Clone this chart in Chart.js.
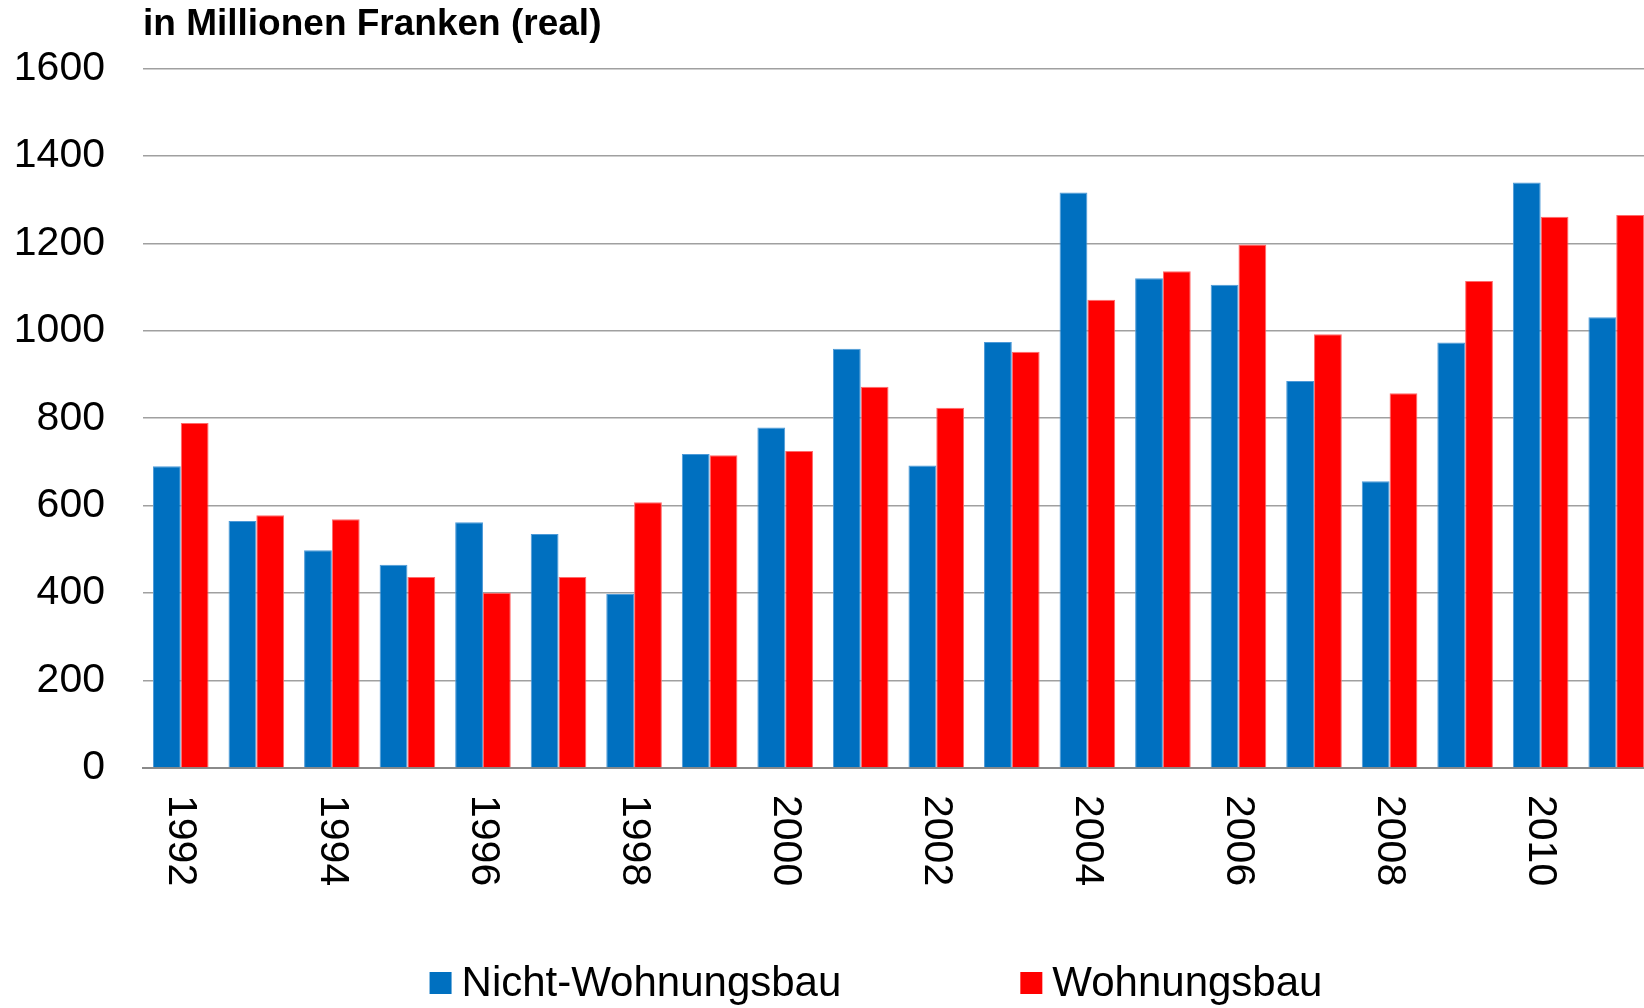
<!DOCTYPE html>
<html>
<head>
<meta charset="utf-8">
<script src="https://cdn.jsdelivr.net/npm/chart.js@4/dist/chart.umd.min.js"></script>
<style>
  html, body { margin: 0; padding: 0; background: #fff; overflow: hidden; }
  #clip { width: 1644px; height: 1008px; overflow: hidden; position: relative; }
  #wrap { width: 1660px; height: 1008px; position: relative; }
</style>
</head>
<body>
<div id="clip"><div id="wrap"><canvas id="c"></canvas></div></div>
<script>
const categories = ['1992','1993','1994','1995','1996','1997','1998','1999','2000','2001',
                    '2002','2003','2004','2005','2006','2007','2008','2009','2010','2011'];
const nichtWohnungsbau = [690, 565, 498, 465, 562, 535, 398, 718, 779, 959,
                          692, 974, 1316, 1120, 1105, 885, 656, 973, 1339, 1031];
const wohnungsbau = [789, 578, 569, 437, 401, 437, 608, 715, 725, 872,
                     824, 952, 1071, 1136, 1197, 992, 857, 1114, 1261, 1265];
const xTickLabels = ['1992','1994','1996','1998','2000','2002','2004','2006','2008','2010'];
const yTicks = [0, 200, 400, 600, 800, 1000, 1200, 1400, 1600];
const seriesNames = ['Nicht-Wohnungsbau', 'Wohnungsbau'];
const titleText = 'in Millionen Franken (real)';

const FONT = '"Liberation Sans", Arial, Helvetica, sans-serif';
const BLUE = '#0070C0';
const RED = '#FF0000';

const xLabelPlugin = {
  id: 'rotatedXLabels',
  afterDraw(chart) {
    const xs = chart.scales.x;
    const ctx = chart.ctx;
    ctx.save();
    ctx.font = '41px ' + FONT;
    ctx.fillStyle = '#000';
    ctx.textAlign = 'left';
    ctx.textBaseline = 'middle';
    xTickLabels.forEach(lbl => {
      const i = categories.indexOf(lbl);
      const x = xs.getPixelForValue(i);
      ctx.save();
      ctx.translate(x, chart.chartArea.bottom + 27);
      ctx.rotate(Math.PI / 2);
      ctx.fillText(lbl, 0, 0);
      ctx.restore();
    });
    ctx.restore();
  }
};

const legendPlugin = {
  id: 'spreadLegend',
  afterDraw(chart) {
    const ctx = chart.ctx;
    const colors = chart.data.datasets.map(d => d.backgroundColor);
    const names = chart.data.datasets.map(d => d.label);
    ctx.save();
    ctx.font = '42px ' + FONT;
    const box = 22, gapText = 10, gapItems = 179;
    const widths = names.map(n => ctx.measureText(n).width);
    let total = 0;
    widths.forEach((w, i) => { total += box + gapText + w + (i < widths.length - 1 ? gapItems : 0); });
    let x = 876 - total / 2;
    const cy = 983;
    ctx.textAlign = 'left';
    ctx.textBaseline = 'middle';
    names.forEach((n, i) => {
      ctx.fillStyle = colors[i];
      ctx.fillRect(x, cy - box / 2, box, box);
      ctx.fillStyle = '#000';
      ctx.fillText(n, x + box + gapText, cy + 1);
      x += box + gapText + widths[i] + gapItems;
    });
    ctx.restore();
  }
};

new Chart(document.getElementById('c'), {
  type: 'bar',
  data: {
    labels: categories,
    datasets: [
      { label: seriesNames[0], data: nichtWohnungsbau, backgroundColor: BLUE,
        borderColor: '#4d9ad8', borderWidth: 1 },
      { label: seriesNames[1], data: wohnungsbau, backgroundColor: RED,
        borderColor: '#ff6b6b', borderWidth: 1 }
    ]
  },
  options: {
    responsive: true,
    maintainAspectRatio: false,
    animation: false,
    devicePixelRatio: 1,
    layout: { padding: { left: 14, right: 6, top: 0, bottom: 240 } },
    datasets: { bar: { categoryPercentage: 0.736, barPercentage: 1.0 } },
    plugins: {
      legend: { display: false },
      tooltip: { enabled: false },
      title: {
        display: true,
        text: titleText,
        align: 'start',
        fullSize: false,
        color: '#000',
        font: { family: FONT, size: 37, weight: 'bold', lineHeight: 1.2 },
        padding: { top: 3, bottom: 21 }
      }
    },
    scales: {
      x: {
        grid: { display: false, drawTicks: false },
        border: { display: true, color: '#8a8a8a', width: 2 },
        ticks: { display: false }
      },
      y: {
        min: 0,
        max: 1600,
        afterBuildTicks(scale) { scale.ticks = yTicks.map(v => ({ value: v })); },
        afterFit(scale) { scale.width = 129; },
        grid: { color: '#a0a0a0', lineWidth: 1.5, drawTicks: false },
        border: { display: false },
        ticks: { color: '#000', padding: 38, font: { family: FONT, size: 41 },
                 callback: v => String(v) }
      }
    }
  },
  plugins: [xLabelPlugin, legendPlugin]
});
</script>
</body>
</html>
